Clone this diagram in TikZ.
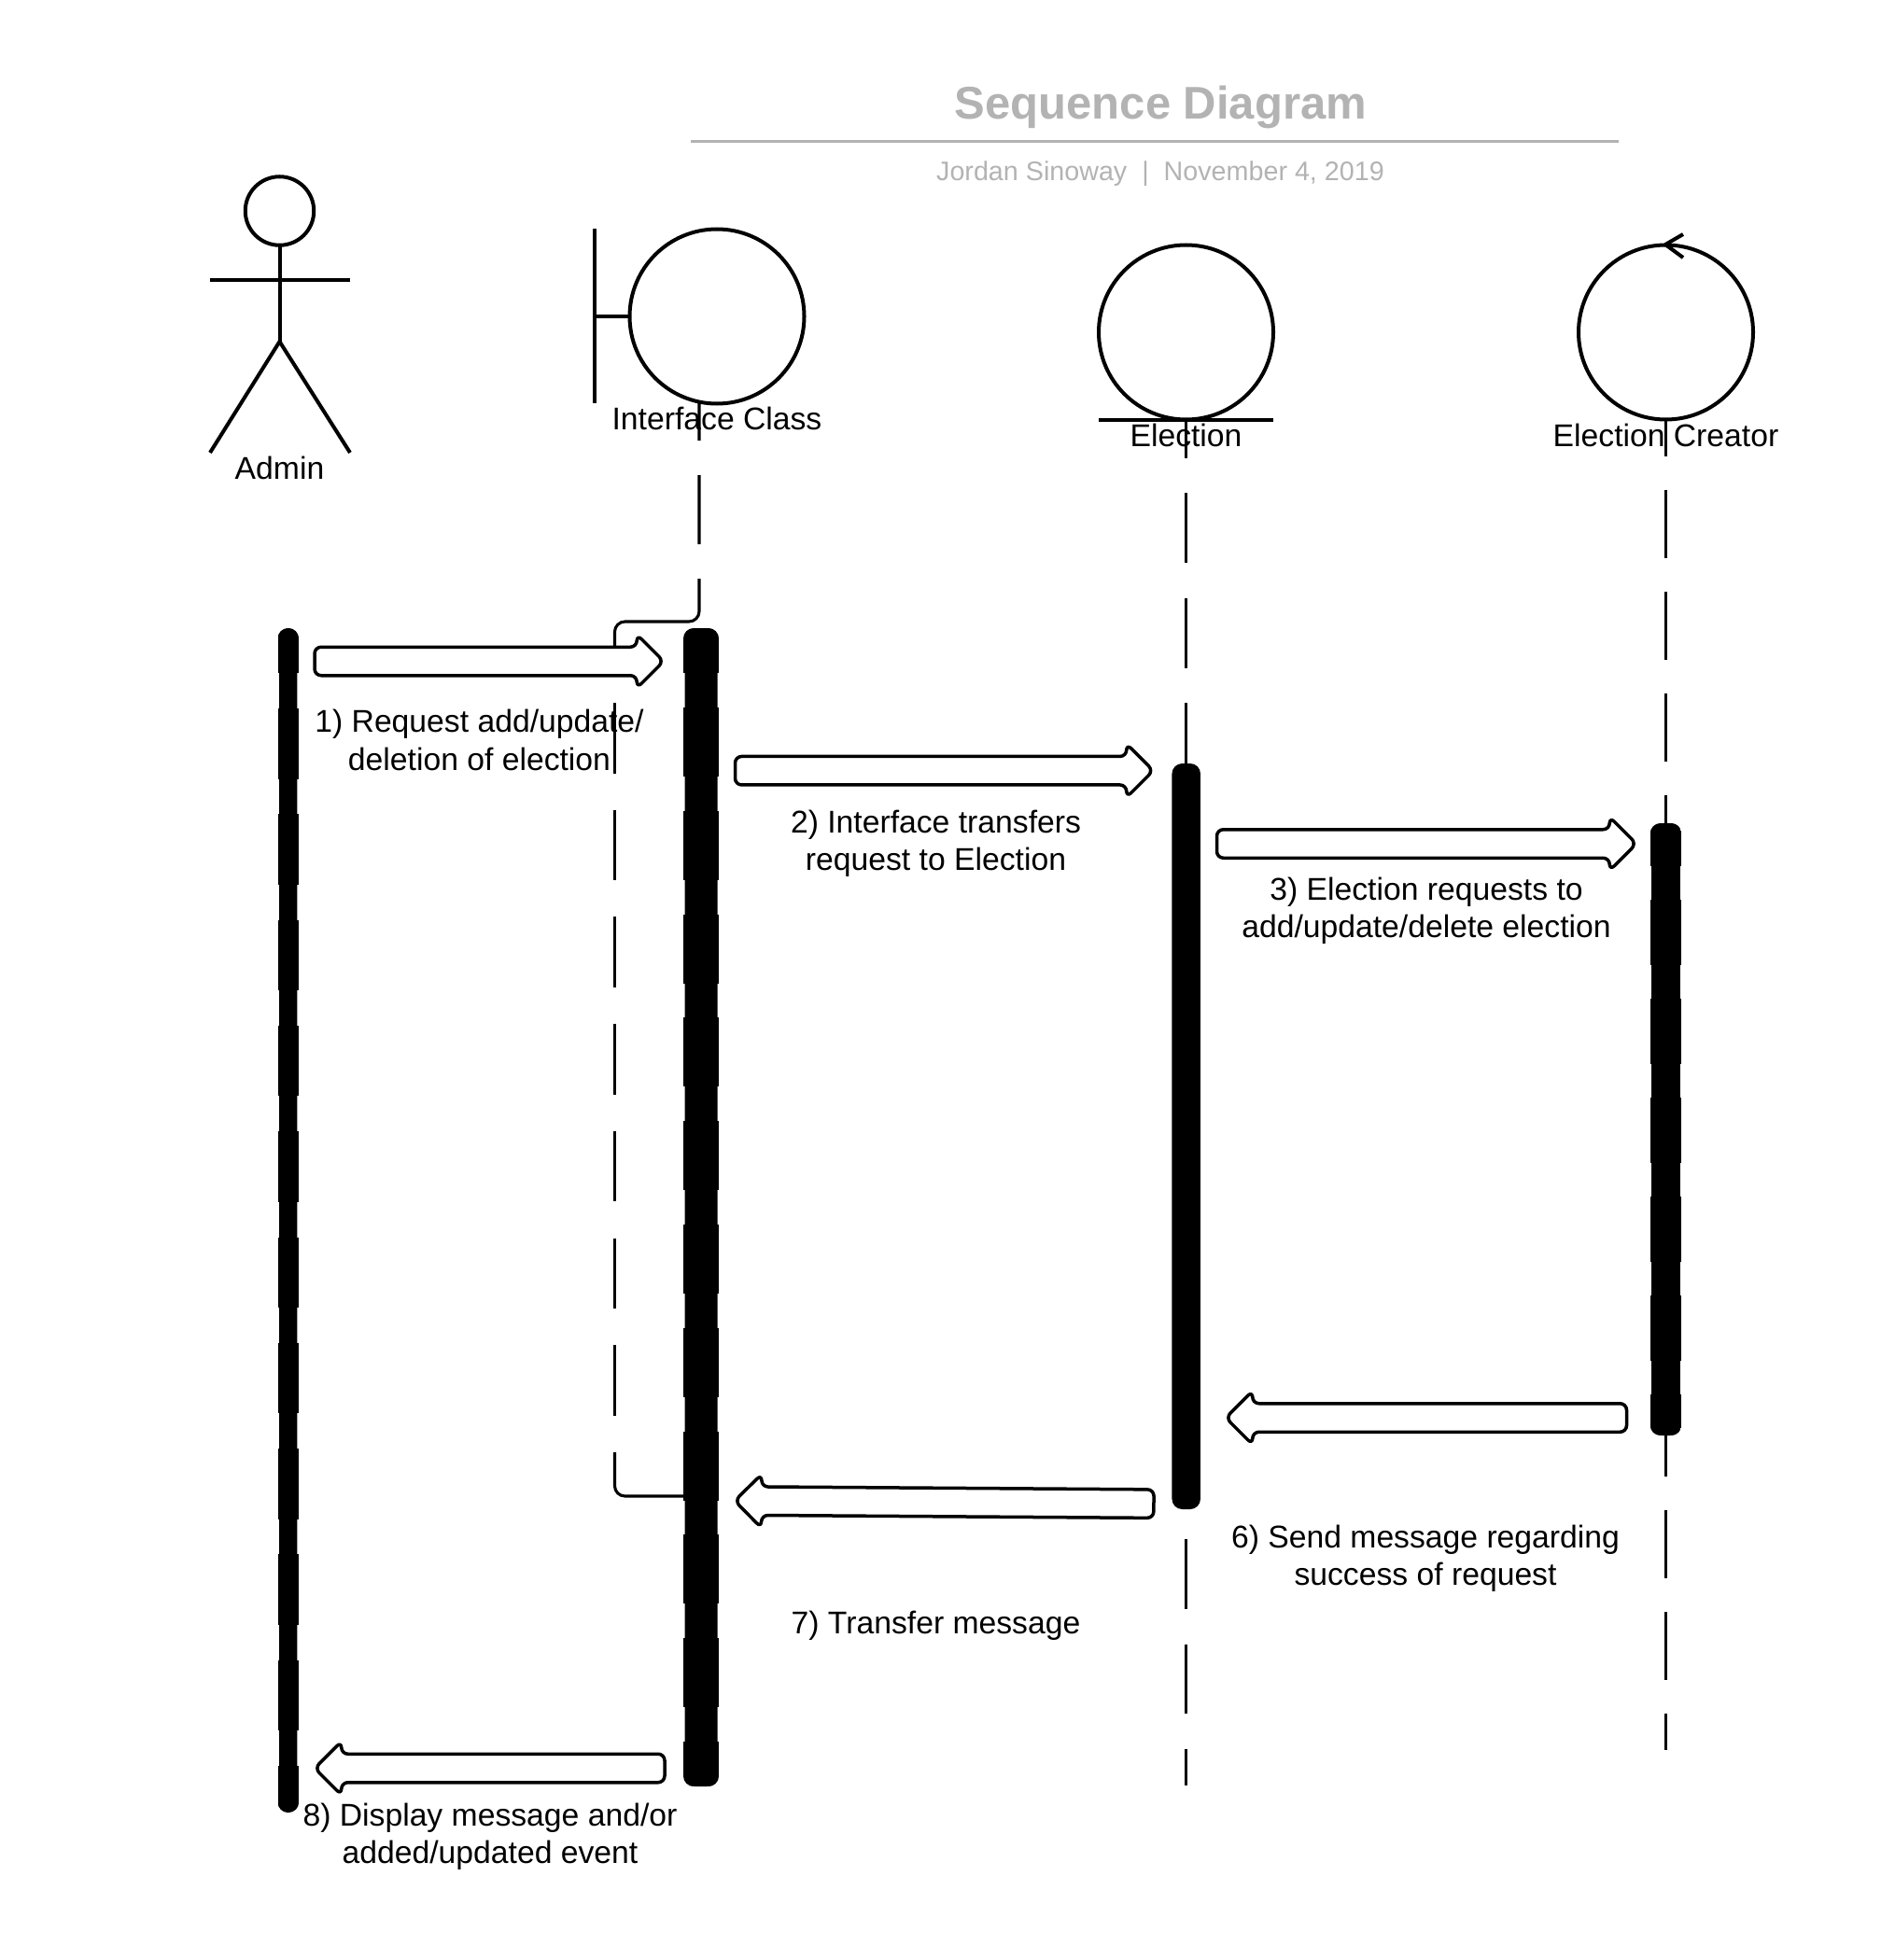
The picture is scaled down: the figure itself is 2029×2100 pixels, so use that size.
\documentclass[tikz,border=0pt]{standalone}
\usepackage{fontspec}
\setmainfont{Liberation Sans}
\usetikzlibrary{shapes.arrows}
\definecolor{titlegray}{HTML}{B3B3B3}
\tikzset{
  x=1pt,y=-1pt,
  outline/.style={draw=black,line width=4pt,line join=round},
  figure/.style={circle,draw=black,fill=none,line width=4pt,inner sep=0pt,outer sep=0pt,minimum size=187pt},
  lifeline/.style={draw=black,line width=3.1pt},
  caption/.style={font=\fontsize{33.7}{40.2}\selectfont,align=center,text=black,inner sep=0pt},
  msgright/.style={single arrow,draw=black,fill=white,line width=3.5pt,line join=round,rounded corners=7pt,
    inner sep=0pt,outer sep=0pt,inner ysep=13.5pt,minimum width=54pt,single arrow head extend=13.5pt,
    single arrow head indent=0pt,anchor=tip},
  msgleft/.style={msgright,shape border rotate=180},
  activation/.style={rectangle,fill=black,inner sep=0pt,outer sep=0pt,rounded corners=11pt},
}
% name, centre x, narrow w, wide w, top, bottom, dash on, dash off, phase
\newcommand{\dashedbar}[9]{%
  \node[activation,minimum width=#3pt,minimum height={(#6-#5)*1pt}] (#1) at (#2,{(#5+#6)/2}) {};
  \begin{scope}
    \path[clip,rounded corners=11pt] ({#2-#4/2},#5) rectangle ({#2+#4/2},#6);
    \draw[line width=#4pt,dash pattern=on #7pt off #8pt,dash phase=#9pt] (#2,#5) -- (#2,#6);
  \end{scope}}
\begin{document}
\begin{tikzpicture}
\useasboundingbox (0,0) rectangle (2029,2100);
\fill[white] (0,0) rectangle (2029,2100);
% title
\node[font=\fontsize{49}{58}\selectfont\bfseries,text=titlegray,inner sep=0pt] (title) at (1243.5,115) {Sequence Diagram};
\coordinate (ruleL) at (740,152);
\coordinate (ruleR) at (1734,152);
\draw[titlegray,line width=3pt] (ruleL) -- (ruleR);
\node[font=\fontsize{28.7}{34}\selectfont,text=titlegray,inner sep=0pt] (subtitle) at (1243,186) {Jordan Sinoway\ \ |\ \ November 4, 2019};
% admin actor
\node[circle,draw=black,line width=4pt,minimum size=73.5pt,inner sep=0pt,outer sep=0pt] (head) at (299.5,226) {};
\coordinate (hip) at (299.5,366);
\coordinate (armL) at (225,300);
\coordinate (armR) at (375,300);
\coordinate (legL) at (225,485);
\coordinate (legR) at (375,485);
\draw[outline] (head.south) -- (hip);
\draw[outline] (armL) -- (armR);
\draw[outline,line join=miter] (legL) -- (hip) -- (legR);
\node[caption] (adminlabel) at (299.5,501.5) {Admin};
% activation bars
\dashedbar{adminbar}{308.8}{19.2}{22.6}{673}{1942}{75.5}{37.8}{27.3}
\dashedbar{ifbar}{751}{35}{38}{673}{1914}{74}{36.8}{25.8}
\node[activation,minimum width=30.5pt,minimum height=799pt] (elbar) at (1270.7,1217.5) {};
% interface
\node[figure] (ifcircle) at (768,339) {};
\coordinate (bndT) at (637,245);
\coordinate (bndB) at (637,432);
\draw[outline] (bndT) -- (bndB);
\draw[outline] (637,339) -- (ifcircle.west);
\coordinate (ifTop) at (749,431);
\coordinate (ifBend) at (749,666);
\coordinate (ifBendB) at (658.5,666);
\coordinate (ifHidden) at (658.5,716);
\coordinate (ifDash) at (658.5,753);
\coordinate (ifDashEnd) at (658.5,1517);
\coordinate (ifLow) at (658.5,1556);
\coordinate (ifLowBend) at (658.5,1603);
\draw[lifeline,rounded corners=11pt,dash pattern=on 41pt off 37pt on 74pt off 37pt on 500pt off 1pt] (ifTop) -- (ifBend) -- (ifBendB) -- (ifHidden);
\draw[lifeline,dash pattern=on 75.5pt off 39.2pt] (ifDash) -- (ifDashEnd);
\draw[lifeline,rounded corners=11pt] (ifLow) -- (ifLowBend) -- (ifLowBend -| ifbar.west);
\node[caption] (iflabel) at (768,448) {Interface Class};
% election
\node[figure] (elcircle) at (1270.5,356) {};
\coordinate (elL) at (1177,450);
\coordinate (elR) at (1364,450);
\draw[outline] (elL) -- (elR);
\draw[lifeline,line width=2.9pt,dash pattern=on 75pt off 37.5pt,dash phase=34pt] (elcircle.south) -- (elbar.north -| elcircle.south);
\coordinate (elEnd) at (1270.5,1913);
\draw[lifeline,line width=2.9pt,dash pattern=on 74.5pt off 38pt,dash phase=80.5pt] (elbar.south -| elEnd) -- (elEnd);
\node[caption] (ellabel) at (1270.5,466) {Election};
% creator
\dashedbar{crbar}{1784.5}{30.6}{33.6}{882}{1538}{70.4}{35.6}{24}
\node[figure] (crcircle) at (1784.5,356) {};
\coordinate (crTip) at (1784,262);
\coordinate (crA) at (1803,251);
\coordinate (crB) at (1803,276);
\draw[outline] (crA) -- (crTip) -- (crB);
\draw[lifeline,line width=3.6pt,dash pattern=on 73pt off 36pt,dash phase=34pt] (crcircle.south) -- (crbar.north -| crcircle.south);
\coordinate (crEnd) at (1784.5,1875);
\draw[lifeline,line width=3.6pt,dash pattern=on 73pt off 36pt,dash phase=29pt] (crbar.south -| crEnd) -- (crEnd);
\node[caption] (crlabel) at (1784.5,466) {Election Creator};
% message arrows
\node[msgright,minimum height=374pt] (m1) at (711,708.5) {};
\node[msgright,minimum height=448pt] (m2) at (1235.5,825.7) {};
\node[msgright,minimum height=449.5pt] (m3) at (1753,904) {};
\node[msgleft,minimum height=429.5pt] (m6) at (1313,1519) {};
\node[msgright,minimum height=449pt,rotate=179.6] (m7) at (787,1608) {};
\node[msgleft,minimum height=375pt] (m8) at (337,1894.5) {};
% message labels
\node[caption] (t1) at (513.5,793) {1) Request add/update/\\deletion of election};
\node[caption] (t2) at (1002.5,903.5) {2) Interface transfers\\request to Election};
\node[caption] (t3) at (1528,976) {3) Election requests to\\add/update/delete election};
\node[caption] (t6) at (1527,1669.5) {6) Send message regarding\\success of request};
\node[caption] (t7) at (1002.5,1742) {7) Transfer message};
\node[caption] (t8) at (525,1967.5) {8) Display message and/or\\added/updated event};
\end{tikzpicture}
\end{document}
